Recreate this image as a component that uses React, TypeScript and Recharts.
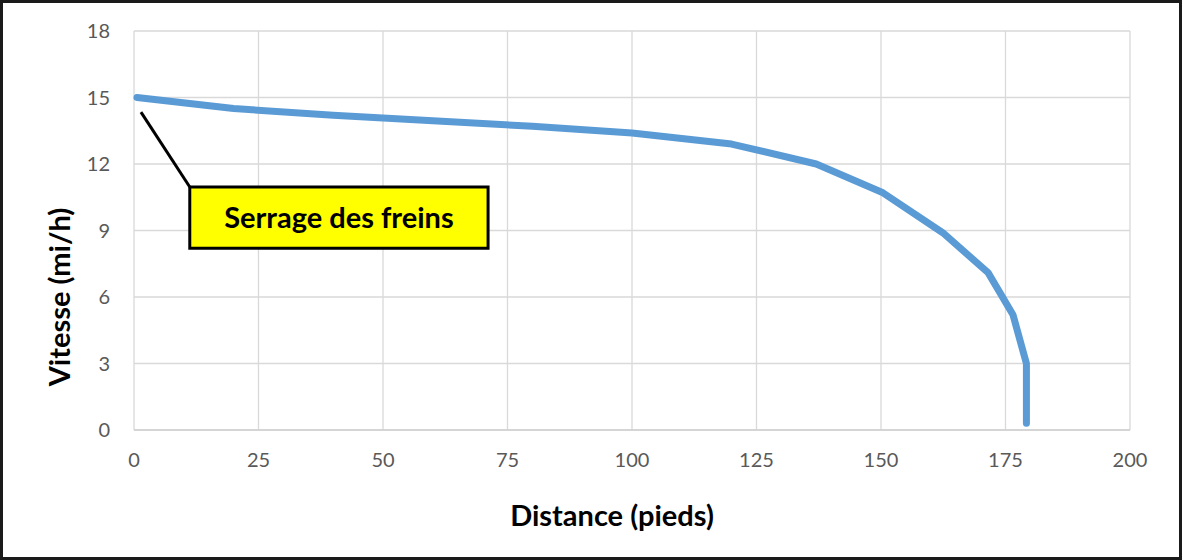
import {
  LineChart, Line, XAxis, YAxis, CartesianGrid, ReferenceArea, ReferenceLine, Label
} from "recharts";

// braking curve: distance travelled (ft) vs speed (mph)
const distance = [0.6, 20, 40, 60, 80, 100, 120, 137, 150.4, 162.4, 171.5, 176.5, 179.2, 179.2];
const speed = [15.0, 14.5, 14.2, 13.95, 13.7, 13.4, 12.9, 12.0, 10.7, 8.9, 7.1, 5.2, 3.0, 0.3];

const xTicks = [0, 25, 50, 75, 100, 125, 150, 175, 200];
const yTicks = [0, 3, 6, 9, 12, 15, 18];

const FONT = "Lato, 'Open Sans', sans-serif";
const TITLE = { fill: "#000", fontSize: 29, fontWeight: 700, fontFamily: FONT };

export default function App() {
  const data = distance.map((d, i) => ({ d, v: speed[i] }));

  return (
    <div
      style={{
        position: "absolute", left: 0, top: 0, width: 1182, height: 560,
        boxSizing: "border-box", border: "3px solid #1a1a1a", background: "#fff",
        fontFamily: FONT,
      }}
    >
      <LineChart
        width={1176}
        height={554}
        data={data}
        style={{ position: "absolute", left: 0, top: 0 }}
        margin={{ top: 28, right: 49, bottom: 27, left: 17 }}
      >
        <CartesianGrid stroke="#d9d9d9" strokeWidth={1.3} />
        <XAxis
          dataKey="d"
          type="number"
          domain={[0, 200]}
          ticks={xTicks}
          height={100}
          tickLine={false}
          axisLine={{ stroke: "#d0d0d0", strokeWidth: 1.5 }}
          tickMargin={17}
          tick={{ fill: "#595959", fontSize: 20, fontFamily: FONT }}
        >
          <Label
            content={() => (
              <text x={609} y={511} textAnchor="middle" dominantBaseline="central" {...TITLE}>
                Distance (pieds)
              </text>
            )}
          />
        </XAxis>
        <YAxis
          dataKey="v"
          type="number"
          domain={[0, 18]}
          ticks={yTicks}
          width={114}
          tickLine={false}
          axisLine={false}
          tickMargin={18}
          tick={{ fill: "#595959", fontSize: 20, fontFamily: FONT }}
        >
          <Label
            content={() => (
              <text
                x={55}
                y={294}
                transform="rotate(-90 55 294)"
                textAnchor="middle"
                dominantBaseline="central"
                {...TITLE}
              >
                Vitesse (mi/h)
              </text>
            )}
          />
        </YAxis>
        <Line
          dataKey="v"
          type="linear"
          stroke="#5b9bd5"
          strokeWidth={7}
          strokeLinecap="round"
          strokeLinejoin="round"
          dot={false}
          isAnimationActive={false}
        />
        {/* callout pointing at the first point */}
        <ReferenceLine
          segment={[{ x: 1.4, y: 14.34 }, { x: 11.2, y: 10.96 }]}
          stroke="#000"
          strokeWidth={3}
        />
        <ReferenceArea
          x1={11.2}
          x2={71.1}
          y1={8.2}
          y2={10.96}
          fill="#ffff00"
          fillOpacity={1}
          stroke="#000"
          strokeWidth={3}
          label={{ value: "Serrage des freins", position: "center", ...TITLE }}
        />
      </LineChart>
    </div>
  );
}
